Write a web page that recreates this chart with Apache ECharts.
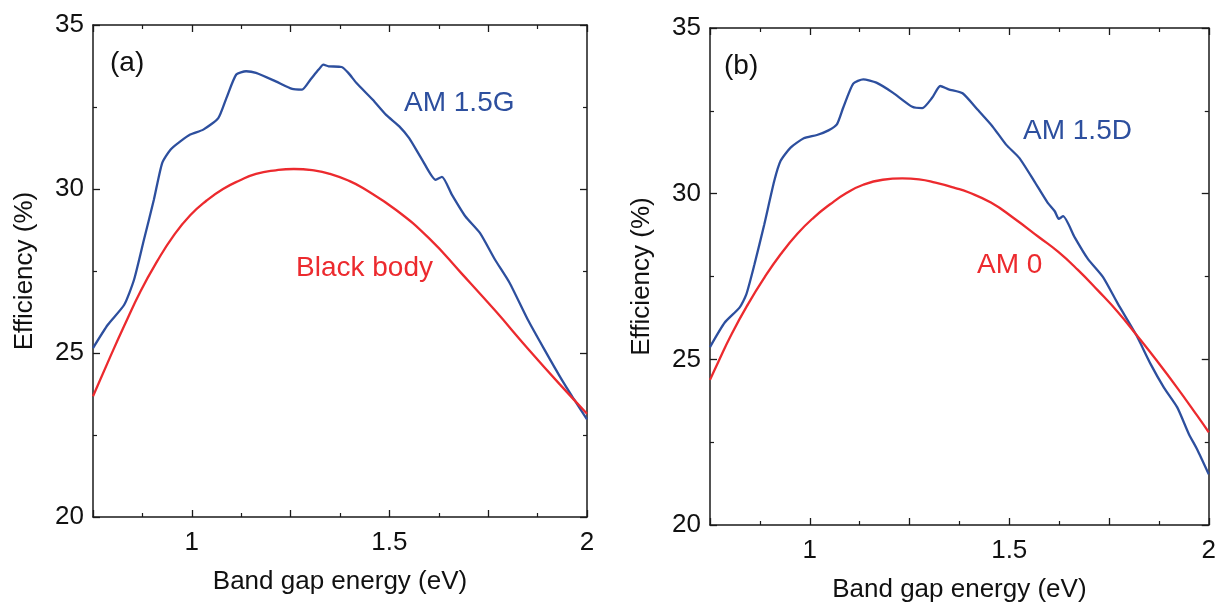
<!DOCTYPE html>
<html>
<head>
<meta charset="utf-8">
<script src="https://cdn.jsdelivr.net/npm/echarts@6/dist/echarts.min.js"></script>
<style>
html,body{margin:0;padding:0;background:#fff;}
#chart{width:1219px;height:608px;}
</style>
</head>
<body>
<div id="chart"></div>
<script>
// ---- Data ----
// Panel (a): AM 1.5G
const amGx = [0.75,0.7875,0.829,0.854,0.879,0.904,0.925,0.946,0.971,0.996,1.029,1.067,1.0875,1.1125,1.1375,1.1625,1.2125,1.254,1.279,1.3,1.321,1.333,1.346,1.379,1.396,1.4167,1.458,1.4917,1.525,1.55,1.583,1.617,1.633,1.658,1.692,1.729,1.767,1.804,1.85,1.892,1.933,1.967,2.0];
const amGy = [25.15,25.86,26.47,27.24,28.46,29.67,30.79,31.2,31.45,31.66,31.81,32.16,32.77,33.49,33.59,33.54,33.28,33.05,33.03,33.33,33.64,33.79,33.74,33.72,33.54,33.23,32.72,32.26,31.91,31.55,30.89,30.28,30.37,29.83,29.17,28.66,27.85,27.14,26.02,25.11,24.25,23.59,22.98];
// Panel (a): Black body
const bbx = [0.75,0.796,0.829,0.871,0.9125,0.954,0.996,1.0375,1.079,1.121,1.1625,1.2125,1.258,1.3125,1.35,1.396,1.433,1.517,1.6,1.683,1.767,1.85,1.933,2.0];
const bby = [23.68,24.95,25.83,26.9,27.8,28.58,29.2,29.65,30.0,30.26,30.46,30.57,30.61,30.56,30.46,30.26,30.03,29.36,28.5,27.42,26.3,25.14,24.02,23.15];
// Panel (b): AM 1.5D
const amDx = [0.75,0.787,0.824,0.841,0.8615,0.886,0.911,0.927,0.952,0.985,1.018,1.047,1.068,1.084,1.109,1.134,1.167,1.208,1.257,1.282,1.307,1.327,1.348,1.383,1.421,1.458,1.492,1.525,1.5625,1.596,1.614,1.624,1.635,1.664,1.697,1.735,1.772,1.818,1.855,1.888,1.921,1.95,1.971,2.0];
const amDy = [25.37,26.11,26.56,26.96,27.87,29.07,30.38,30.99,31.39,31.67,31.77,31.91,32.09,32.6,33.32,33.45,33.35,33.05,32.62,32.58,32.9,33.25,33.15,33.03,32.53,32.03,31.48,31.08,30.38,29.73,29.47,29.24,29.32,28.68,28.03,27.48,26.68,25.74,24.84,24.14,23.55,22.75,22.28,21.53];
// Panel (b): AM 0
const am0x = [0.75,0.771,0.804,0.845,0.886,0.927,0.969,1.01,1.051,1.092,1.134,1.183,1.232,1.274,1.315,1.365,1.396,1.454,1.5125,1.573,1.623,1.672,1.722,1.772,1.818,1.871,1.921,1.971,2.0];
const am0y = [24.38,24.93,25.76,26.66,27.46,28.17,28.79,29.28,29.68,30.02,30.27,30.42,30.46,30.43,30.33,30.17,30.05,29.73,29.25,28.7,28.24,27.7,27.08,26.43,25.75,24.94,24.14,23.3,22.8];

const xTickLabels = ['1','1.5','2'];
const yTickLabels = ['20','25','30','35'];
const seriesNames = ['AM 1.5G','Black body','AM 1.5D','AM 0'];
const panelLabels = ['(a)','(b)'];
const xTitle = 'Band gap energy (eV)';
const yTitle = 'Efficiency (%)';

// ---- Styles ----
const FONT = "'Liberation Sans', Arial, Helvetica, sans-serif";
const BLUE = '#2d4f9e';
const RED = '#ec2a2e';
const LINE = '#1a1a1a';

function pairs(xs, ys){ return xs.map((x,i)=>[x, ys[i]]); }

const chart = echarts.init(document.getElementById('chart'), null, {renderer:'canvas'});

const grids = [
  {left:93, top:25, width:494, height:492},
  {left:710, top:28, width:502, height:499}
];

function xAxisPair(gi){
  const common = {
    type:'value', gridIndex:gi, min:0.75, max:2, interval:0.25,
    axisLine:{show:true, lineStyle:{color:LINE, width:1.5}},
    axisTick:{show:true, inside:true, length:7, lineStyle:{color:LINE, width:1.3}},
    minorTick:{show:true, splitNumber:2, length:4, lineStyle:{color:LINE, width:1.2}},
    splitLine:{show:false}, minorSplitLine:{show:false}
  };
  return [
    Object.assign({}, common, {
      position:'bottom',
      axisLabel:{show:true, margin:13, fontFamily:FONT, fontSize:26, color:'#111',
        formatter:v=>{ const s=String(+v.toFixed(3)); return xTickLabels.indexOf(s)>=0 ? s : ''; }},
      name:xTitle, nameLocation:'middle', nameGap:52,
      nameTextStyle:{fontFamily:FONT, fontSize:26, color:'#111'}
    }),
    Object.assign({}, common, {position:'top', axisLabel:{show:false}})
  ];
}
function yAxisPair(gi){
  const common = {
    type:'value', gridIndex:gi, min:20, max:35, interval:5,
    axisLine:{show:true, lineStyle:{color:LINE, width:1.5}},
    axisTick:{show:true, inside:true, length:7, lineStyle:{color:LINE, width:1.3}},
    minorTick:{show:true, splitNumber:2, length:4, lineStyle:{color:LINE, width:1.2}},
    splitLine:{show:false}, minorSplitLine:{show:false}
  };
  return [
    Object.assign({}, common, {
      position:'left',
      axisLabel:{show:true, margin:9, fontFamily:FONT, fontSize:26, color:'#111',
        formatter:v=>{ const s=String(v); return yTickLabels.indexOf(s)>=0 ? s : ''; }},
      name:yTitle, nameLocation:'middle', nameGap:55, nameRotate:90,
      nameTextStyle:{fontFamily:FONT, fontSize:26, color:'#111'}
    }),
    Object.assign({}, common, {position:'right', axisLabel:{show:false}})
  ];
}

const xAxes = [...xAxisPair(0), ...xAxisPair(1)];
const yAxes = [...yAxisPair(0), ...yAxisPair(1)];

function lineSeries(name, xs, ys, color, axisIdx, smooth){
  return {
    name, type:'line', xAxisIndex:axisIdx, yAxisIndex:axisIdx,
    data:pairs(xs, ys), showSymbol:false, symbol:'none', smooth:smooth,
    lineStyle:{color, width:2.3}, itemStyle:{color}, clip:true, animation:false, z:3
  };
}

function txt(left, top, text, color){
  return {type:'text', left, top, style:{text, fill:color, font:`28px ${FONT}`}};
}

chart.setOption({
  animation:false,
  backgroundColor:'#ffffff',
  grid:grids,
  xAxis:xAxes,
  yAxis:yAxes,
  series:[
    lineSeries(seriesNames[0], amGx, amGy, BLUE, 0, 0.2),
    lineSeries(seriesNames[1], bbx, bby, RED, 0, 0.5),
    lineSeries(seriesNames[2], amDx, amDy, BLUE, 2, 0.2),
    lineSeries(seriesNames[3], am0x, am0y, RED, 2, 0.5)
  ],
  graphic:[
    txt(110, 49, panelLabels[0], '#111'),
    txt(404, 89, seriesNames[0], BLUE),
    txt(296, 254, seriesNames[1], RED),
    txt(724, 52, panelLabels[1], '#111'),
    txt(1023, 117, seriesNames[2], BLUE),
    txt(977, 251, seriesNames[3], RED)
  ]
});
</script>
</body>
</html>
